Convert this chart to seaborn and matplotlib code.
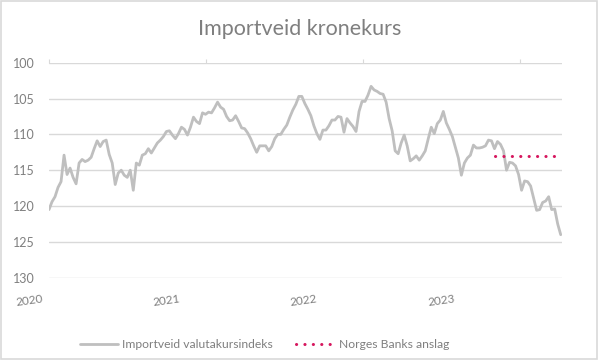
import matplotlib
matplotlib.use("Agg")
import matplotlib.pyplot as plt
import matplotlib.transforms as mtransforms
from matplotlib.patches import Rectangle
import numpy as np
import pandas as pd
import seaborn as sns

# ---------------- data ----------------
start_date = "2020-01-01"
index_values = [
    120.5, 119.4, 118.7, 117.4, 116.6, 112.9, 115.6, 114.7, 116.0, 116.9,
    114.0, 113.5, 113.8, 113.6, 113.2, 112.0, 110.9, 111.7, 111.0, 110.8,
    112.8, 114.0, 117.0, 115.4, 115.0, 115.7, 116.0, 115.0, 117.8, 114.0,
    114.3, 112.9, 112.7, 112.0, 112.6, 111.9, 111.2, 110.8, 110.3, 109.6,
    109.5, 110.1, 110.6, 109.9, 109.0, 109.3, 110.1, 109.0, 107.6, 108.2,
    108.5, 107.0, 107.2, 106.9, 107.0, 106.3, 105.5, 106.2, 106.5, 107.5,
    108.1, 108.0, 107.4, 108.2, 109.1, 109.2, 109.8, 110.6, 111.6, 112.5,
    111.6, 111.6, 111.6, 112.3, 111.7, 110.6, 110.0, 110.0, 109.3, 108.7,
    107.6, 106.6, 105.8, 104.7, 104.7, 105.7, 106.5, 107.4, 108.8, 109.9,
    110.7, 109.4, 109.4, 108.8, 108.0, 108.0, 107.5, 107.6, 109.7, 107.8,
    108.4, 108.9, 109.6, 106.8, 105.4, 105.4, 104.5, 103.3, 103.8, 104.0,
    104.3, 104.4, 105.5, 107.8, 109.5, 112.3, 112.7, 111.2, 110.1, 111.6,
    113.7, 113.4, 113.0, 113.6, 113.0, 112.3, 110.6, 109.0, 109.9, 108.5,
    108.0, 106.8, 108.4, 109.3, 110.3, 111.8, 113.3, 115.7, 114.0, 113.3,
    112.9, 111.5, 111.9, 111.9, 111.8, 111.6, 110.8, 110.9, 112.0, 111.0,
    111.4, 112.3, 115.0, 113.9, 114.0, 114.4, 115.6, 117.8, 116.5, 116.6,
    117.2, 118.9, 120.6, 120.5, 119.5, 119.3, 118.7, 120.5, 120.4, 122.5,
    124.0,
]
forecast_dates = ["2022-11-03", "2023-04-03"]
forecast_values = [113.0, 113.0]

series_names = ["Importveid valutakursindeks", "Norges Banks anslag"]
title = "Importveid kronekurs"
y_ticks = [100, 105, 110, 115, 120, 125, 130]
x_tick_years = ["2020", "2021", "2022", "2023"]
x_label_pos = ["2019-11-16", "2020-10-01", "2021-08-14", "2022-07-01"]
x_limits = ["2020-01-01", "2023-04-08"]

# ---------------- frame ----------------
df_idx = pd.DataFrame({
    "date": pd.date_range(start_date, periods=len(index_values), freq="7D"),
    "value": index_values,
})
df_fc = pd.DataFrame({"date": pd.to_datetime(forecast_dates), "value": forecast_values})

sns.set_theme(style="white")
plt.rcParams["font.family"] = ["Lato", "DejaVu Sans"]

fig = plt.figure(figsize=(5.99, 3.60), dpi=100)
ax = fig.add_axes([49 / 599, 1 - 277.7 / 360, (562 - 49) / 599, (277.7 - 62.7) / 360])

grey_txt = "#7F7F7F"
grid_c = "#D9D9D9"

sns.lineplot(data=df_idx, x="date", y="value", ax=ax, color="#BFBFBF",
             linewidth=2.0, label=series_names[0])
sns.lineplot(data=df_fc, x="date", y="value", ax=ax, color="#D6175E",
             linewidth=2.2, linestyle=(0, (0.05, 2.7)), label=series_names[1])
for ln in ax.get_lines()[1:2]:
    ln.set_dash_capstyle("round")

ax.set_ylim(130, 100)
ax.set_yticks(y_ticks)
ax.set_yticklabels([str(v) for v in y_ticks], color=grey_txt, fontsize=9)
ax.set_xlim(pd.to_datetime(x_limits[0]), pd.to_datetime(x_limits[1]))
ax.set_xlabel("")
ax.set_ylabel("")

ax.yaxis.grid(True, color=grid_c, linewidth=1.0)
ax.set_axisbelow(True)
for s in ax.spines.values():
    s.set_visible(False)

ax.tick_params(axis="y", length=0, pad=10)
ax.xaxis.tick_top()
ax.set_xticks(pd.to_datetime([y + "-01-01" for y in x_tick_years]))
ax.tick_params(axis="x", which="both", top=True, bottom=False, labeltop=False,
               labelbottom=False, length=3, width=0.8, color=grid_c, direction="out")

trans = mtransforms.blended_transform_factory(ax.transData, ax.transAxes)
for lab, pos in zip(x_tick_years, x_label_pos):
    ax.text(pd.to_datetime(pos), -0.105, lab, transform=trans, ha="center",
            va="center", rotation=8, fontsize=8.5, color=grey_txt)

ax.get_legend().remove()
handles, labels = ax.get_legend_handles_labels()
leg = fig.legend(handles, labels, loc="center", bbox_to_anchor=(264.5 / 599, 1 - 345 / 360),
                 ncol=2, frameon=False, fontsize=8.7, handlelength=3.2,
                 columnspacing=1.9, handletextpad=0.35)
for t in leg.get_texts():
    t.set_color(grey_txt)

fig.text(0.5, 1 - 29 / 360, title, ha="center", va="center", fontsize=15.5, color=grey_txt)

fig.patches.append(Rectangle((0.002, 0.003), 0.995, 0.993, transform=fig.transFigure,
                             fill=False, edgecolor=grid_c, linewidth=1.2))

fig.savefig("out.png", dpi=100)
